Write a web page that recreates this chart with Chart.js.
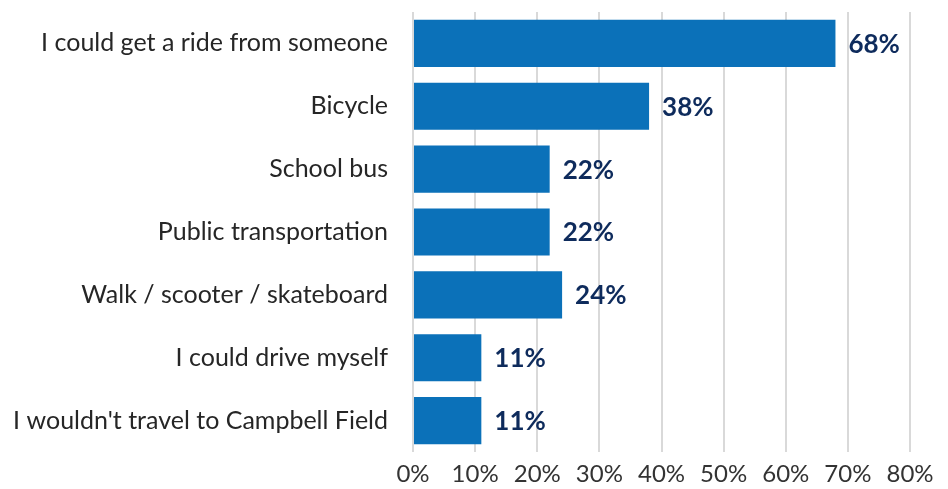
<!DOCTYPE html>
<html>
<head>
<meta charset="utf-8">
<script src="https://cdn.jsdelivr.net/npm/chart.js@4.4.0/dist/chart.umd.min.js"></script>
<style>
  html, body { margin: 0; padding: 0; background: #fff; }
  #wrap { width: 948px; height: 489px; }
</style>
</head>
<body>
<div id="wrap"><canvas id="bar"></canvas></div>
<script>
const categories = [
  'I could get a ride from someone',
  'Bicycle',
  'School bus',
  'Public transportation',
  'Walk / scooter / skateboard',
  'I could drive myself',
  "I wouldn't travel to Campbell Field"
];
const values = [68, 38, 22, 22, 24, 11, 11];
const tickValues = [0, 10, 20, 30, 40, 50, 60, 70, 80];

// draws the percentage next to each bar
const barLabels = {
  id: 'barLabels',
  afterDatasetsDraw(chart) {
    const c = chart.ctx;
    const meta = chart.getDatasetMeta(0);
    c.save();
    c.font = 'bold 26px Lato, "Open Sans", sans-serif';
    c.fillStyle = '#0e2b5c';
    c.textAlign = 'left';
    c.textBaseline = 'middle';
    meta.data.forEach((bar, i) => {
      c.fillText(values[i] + '%', bar.x + 13, bar.y + 1);
    });
    c.restore();
  }
};

const ctx = document.getElementById('bar');

new Chart(ctx, {
  type: 'bar',
  data: {
    labels: categories,
    datasets: [{
      data: values,
      backgroundColor: '#0b71b9',
      borderWidth: 0,
      barPercentage: 0.75,
      categoryPercentage: 1
    }]
  },
  options: {
    indexAxis: 'y',
    responsive: true,
    maintainAspectRatio: false,
    animation: false,
    layout: { padding: { top: 12, right: 38, bottom: 0, left: 0 } },
    plugins: {
      legend: { display: false },
      tooltip: { enabled: false }
    },
    scales: {
      x: {
        min: 0,
        max: 80,
        afterBuildTicks(axis) {
          axis.ticks = tickValues.map(v => ({ value: v }));
        },
        afterFit(axis) { axis.height = 37; },
        grid: { color: '#d9d9d9', lineWidth: 2, drawTicks: false },
        border: { display: false },
        ticks: {
          padding: 8,
          color: '#333',
          font: { family: 'Lato, "Open Sans", sans-serif', size: 24 },
          callback: v => v + '%'
        }
      },
      y: {
        afterFit(axis) {
          axis.width = 413;
          axis.paddingTop = 0;
          axis.paddingBottom = 0;
        },
        grid: { display: false },
        border: { display: false },
        ticks: {
          padding: 17,
          color: '#262626',
          font: { family: 'Lato, "Open Sans", sans-serif', size: 25 }
        }
      }
    }
  },
  plugins: [barLabels]
});
</script>
</body>
</html>
